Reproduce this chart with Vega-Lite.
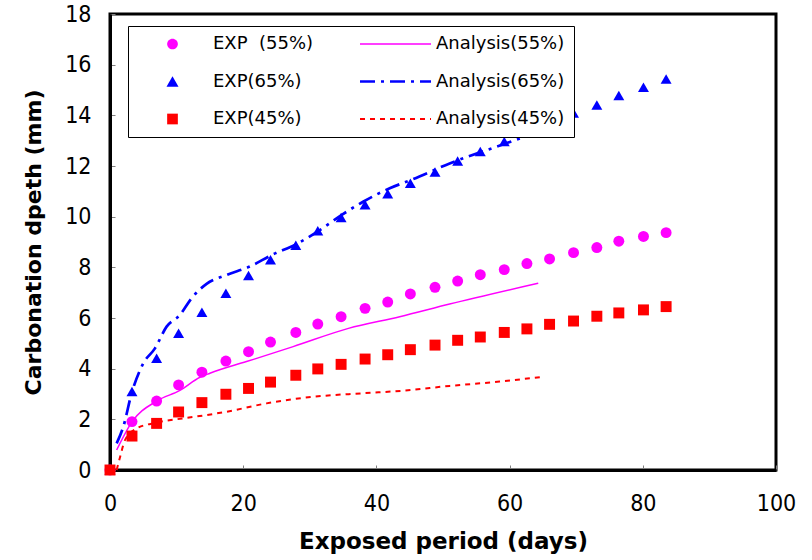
{
  "$schema": "https://vega.github.io/schema/vega-lite/v6.json",
  "width": 666,
  "height": 456,
  "autosize": {"type": "none"},
  "padding": {"left": 110, "top": 14, "right": 36, "bottom": 90},
  "background": "white",
  "config": {
    "view": {"stroke": "black", "strokeWidth": 3},
    "axis": {
      "grid": false,
      "domainColor": "black",
      "domainWidth": 3,
      "tickColor": "#808080",
      "tickWidth": 1,
      "tickSize": -5,
      "labelFlush": false,
      "labelOverlap": false,
      "labelFont": "DejaVu Sans Condensed, Liberation Sans Narrow, DejaVu Sans",
      "labelFontSize": 23,
      "labelColor": "black",
      "titleFont": "DejaVu Sans",
      "titleFontSize": 22,
      "titleFontWeight": "bold",
      "titleColor": "black"
    }
  },
  "datasets": {
    "exp": [
      {"day": 0, "depth": 0, "series": "EXP (55%)"},
      {"day": 3.3, "depth": 1.91, "series": "EXP (55%)"},
      {"day": 7.0, "depth": 2.72, "series": "EXP (55%)"},
      {"day": 10.3, "depth": 3.36, "series": "EXP (55%)"},
      {"day": 13.8, "depth": 3.86, "series": "EXP (55%)"},
      {"day": 17.4, "depth": 4.30, "series": "EXP (55%)"},
      {"day": 20.8, "depth": 4.67, "series": "EXP (55%)"},
      {"day": 24.1, "depth": 5.05, "series": "EXP (55%)"},
      {"day": 27.9, "depth": 5.43, "series": "EXP (55%)"},
      {"day": 31.2, "depth": 5.76, "series": "EXP (55%)"},
      {"day": 34.7, "depth": 6.05, "series": "EXP (55%)"},
      {"day": 38.3, "depth": 6.38, "series": "EXP (55%)"},
      {"day": 41.7, "depth": 6.63, "series": "EXP (55%)"},
      {"day": 45.1, "depth": 6.95, "series": "EXP (55%)"},
      {"day": 48.8, "depth": 7.21, "series": "EXP (55%)"},
      {"day": 52.2, "depth": 7.46, "series": "EXP (55%)"},
      {"day": 55.6, "depth": 7.71, "series": "EXP (55%)"},
      {"day": 59.2, "depth": 7.91, "series": "EXP (55%)"},
      {"day": 62.6, "depth": 8.15, "series": "EXP (55%)"},
      {"day": 66.0, "depth": 8.33, "series": "EXP (55%)"},
      {"day": 69.6, "depth": 8.58, "series": "EXP (55%)"},
      {"day": 73.1, "depth": 8.78, "series": "EXP (55%)"},
      {"day": 76.4, "depth": 9.03, "series": "EXP (55%)"},
      {"day": 80.1, "depth": 9.22, "series": "EXP (55%)"},
      {"day": 83.5, "depth": 9.37, "series": "EXP (55%)"},
      {"day": 0, "depth": 0, "series": "EXP(65%)"},
      {"day": 3.3, "depth": 3.10, "series": "EXP(65%)"},
      {"day": 7.0, "depth": 4.41, "series": "EXP(65%)"},
      {"day": 10.3, "depth": 5.40, "series": "EXP(65%)"},
      {"day": 13.8, "depth": 6.23, "series": "EXP(65%)"},
      {"day": 17.4, "depth": 6.98, "series": "EXP(65%)"},
      {"day": 20.8, "depth": 7.68, "series": "EXP(65%)"},
      {"day": 24.1, "depth": 8.30, "series": "EXP(65%)"},
      {"day": 27.9, "depth": 8.87, "series": "EXP(65%)"},
      {"day": 31.2, "depth": 9.44, "series": "EXP(65%)"},
      {"day": 34.7, "depth": 9.97, "series": "EXP(65%)"},
      {"day": 38.3, "depth": 10.47, "series": "EXP(65%)"},
      {"day": 41.7, "depth": 10.90, "series": "EXP(65%)"},
      {"day": 45.1, "depth": 11.32, "series": "EXP(65%)"},
      {"day": 48.8, "depth": 11.76, "series": "EXP(65%)"},
      {"day": 52.2, "depth": 12.20, "series": "EXP(65%)"},
      {"day": 55.6, "depth": 12.57, "series": "EXP(65%)"},
      {"day": 59.2, "depth": 12.97, "series": "EXP(65%)"},
      {"day": 62.6, "depth": 13.30, "series": "EXP(65%)"},
      {"day": 66.0, "depth": 13.69, "series": "EXP(65%)"},
      {"day": 69.6, "depth": 14.09, "series": "EXP(65%)"},
      {"day": 73.1, "depth": 14.41, "series": "EXP(65%)"},
      {"day": 76.4, "depth": 14.78, "series": "EXP(65%)"},
      {"day": 80.1, "depth": 15.11, "series": "EXP(65%)"},
      {"day": 83.5, "depth": 15.43, "series": "EXP(65%)"},
      {"day": 0, "depth": 0, "series": "EXP(45%)"},
      {"day": 3.3, "depth": 1.34, "series": "EXP(45%)"},
      {"day": 7.0, "depth": 1.84, "series": "EXP(45%)"},
      {"day": 10.3, "depth": 2.29, "series": "EXP(45%)"},
      {"day": 13.8, "depth": 2.66, "series": "EXP(45%)"},
      {"day": 17.4, "depth": 2.99, "series": "EXP(45%)"},
      {"day": 20.8, "depth": 3.22, "series": "EXP(45%)"},
      {"day": 24.1, "depth": 3.47, "series": "EXP(45%)"},
      {"day": 27.9, "depth": 3.74, "series": "EXP(45%)"},
      {"day": 31.2, "depth": 3.99, "series": "EXP(45%)"},
      {"day": 34.7, "depth": 4.17, "series": "EXP(45%)"},
      {"day": 38.3, "depth": 4.38, "series": "EXP(45%)"},
      {"day": 41.7, "depth": 4.55, "series": "EXP(45%)"},
      {"day": 45.1, "depth": 4.75, "series": "EXP(45%)"},
      {"day": 48.8, "depth": 4.93, "series": "EXP(45%)"},
      {"day": 52.2, "depth": 5.12, "series": "EXP(45%)"},
      {"day": 55.6, "depth": 5.25, "series": "EXP(45%)"},
      {"day": 59.2, "depth": 5.43, "series": "EXP(45%)"},
      {"day": 62.6, "depth": 5.57, "series": "EXP(45%)"},
      {"day": 66.0, "depth": 5.75, "series": "EXP(45%)"},
      {"day": 69.6, "depth": 5.88, "series": "EXP(45%)"},
      {"day": 73.1, "depth": 6.07, "series": "EXP(45%)"},
      {"day": 76.4, "depth": 6.20, "series": "EXP(45%)"},
      {"day": 80.1, "depth": 6.32, "series": "EXP(45%)"},
      {"day": 83.5, "depth": 6.45, "series": "EXP(45%)"}
    ],
    "ana55": [
      {"day": 1.0, "depth": 0.79, "series": "Analysis(55%)"},
      {"day": 3.3, "depth": 1.90, "series": "Analysis(55%)"},
      {"day": 7.0, "depth": 2.72, "series": "Analysis(55%)"},
      {"day": 10.5, "depth": 3.14, "series": "Analysis(55%)"},
      {"day": 13.5, "depth": 3.66, "series": "Analysis(55%)"},
      {"day": 15.0, "depth": 3.82, "series": "Analysis(55%)"},
      {"day": 20.5, "depth": 4.28, "series": "Analysis(55%)"},
      {"day": 27.5, "depth": 4.87, "series": "Analysis(55%)"},
      {"day": 35.8, "depth": 5.59, "series": "Analysis(55%)"},
      {"day": 43.5, "depth": 6.05, "series": "Analysis(55%)"},
      {"day": 51.0, "depth": 6.55, "series": "Analysis(55%)"},
      {"day": 64.3, "depth": 7.37, "series": "Analysis(55%)"}
    ],
    "ana65": [
      {"day": 1.0, "depth": 1.05, "series": "Analysis(65%)"},
      {"day": 2.0, "depth": 1.71, "series": "Analysis(65%)"},
      {"day": 3.25, "depth": 3.03, "series": "Analysis(65%)"},
      {"day": 5.0, "depth": 4.21, "series": "Analysis(65%)"},
      {"day": 6.75, "depth": 4.80, "series": "Analysis(65%)"},
      {"day": 8.5, "depth": 5.66, "series": "Analysis(65%)"},
      {"day": 10.5, "depth": 6.12, "series": "Analysis(65%)"},
      {"day": 12.25, "depth": 6.78, "series": "Analysis(65%)"},
      {"day": 14.5, "depth": 7.35, "series": "Analysis(65%)"},
      {"day": 17.5, "depth": 7.70, "series": "Analysis(65%)"},
      {"day": 21.0, "depth": 8.03, "series": "Analysis(65%)"},
      {"day": 24.3, "depth": 8.49, "series": "Analysis(65%)"},
      {"day": 28.0, "depth": 8.92, "series": "Analysis(65%)"},
      {"day": 31.5, "depth": 9.47, "series": "Analysis(65%)"},
      {"day": 34.8, "depth": 10.07, "series": "Analysis(65%)"},
      {"day": 38.0, "depth": 10.59, "series": "Analysis(65%)"},
      {"day": 42.0, "depth": 11.12, "series": "Analysis(65%)"},
      {"day": 45.5, "depth": 11.48, "series": "Analysis(65%)"},
      {"day": 51.0, "depth": 12.10, "series": "Analysis(65%)"},
      {"day": 58.0, "depth": 12.76, "series": "Analysis(65%)"},
      {"day": 65.0, "depth": 13.40, "series": "Analysis(65%)"}
    ],
    "ana45": [
      {"day": 1.0, "depth": 0.0, "series": "Analysis(45%)"},
      {"day": 1.6, "depth": 0.6, "series": "Analysis(45%)"},
      {"day": 2.25, "depth": 1.18, "series": "Analysis(45%)"},
      {"day": 4.0, "depth": 1.64, "series": "Analysis(45%)"},
      {"day": 7.0, "depth": 1.87, "series": "Analysis(45%)"},
      {"day": 11.0, "depth": 2.04, "series": "Analysis(45%)"},
      {"day": 14.5, "depth": 2.17, "series": "Analysis(45%)"},
      {"day": 17.5, "depth": 2.30, "series": "Analysis(45%)"},
      {"day": 23.5, "depth": 2.63, "series": "Analysis(45%)"},
      {"day": 30.5, "depth": 2.89, "series": "Analysis(45%)"},
      {"day": 38.0, "depth": 3.03, "series": "Analysis(45%)"},
      {"day": 44.0, "depth": 3.13, "series": "Analysis(45%)"},
      {"day": 51.0, "depth": 3.32, "series": "Analysis(45%)"},
      {"day": 58.5, "depth": 3.49, "series": "Analysis(45%)"},
      {"day": 65.0, "depth": 3.68, "series": "Analysis(45%)"}
    ]
  },
  "encoding": {
    "x": {
      "field": "day", "type": "quantitative",
      "scale": {"domain": [0, 100], "nice": false, "zero": false},
      "axis": {"values": [0, 20, 40, 60, 80, 100], "title": "Exposed period (days)", "labelPadding": 27, "titlePadding": 15, "titleFontSize": 23}
    },
    "y": {
      "field": "depth", "type": "quantitative",
      "scale": {"domain": [0, 18], "nice": false, "zero": false},
      "axis": {"values": [0, 2, 4, 6, 8, 10, 12, 14, 16, 18], "title": "Carbonation dpeth (mm)", "labelPadding": 24, "titlePadding": 19}
    },
    "color": {
      "field": "series", "type": "nominal",
      "scale": {
        "domain": ["EXP (55%)", "Analysis(55%)", "EXP(65%)", "Analysis(65%)", "EXP(45%)", "Analysis(45%)"],
        "range": ["#FF00FF", "#FF00FF", "#0000FF", "#0000FF", "#FF0000", "#FF0000"]
      },
      "legend": {
        "title": null,
        "orient": "none",
        "legendX": 18,
        "legendY": 12,
        "columns": 2,
        "direction": "horizontal",
        "columnPadding": 40,
        "rowPadding": 19.5,
        "padding": 9,
        "fillColor": "white",
        "strokeColor": "black",
        "symbolSize": 100,
        "labelOffset": 58,
        "labelFont": "DejaVu Sans",
        "labelFontSize": 18,
        "labelColor": "black",
        "labelLimit": 300,
        "labelExpr": "datum.label == 'EXP (55%)' ? 'EXP\u00a0 (55%)' : datum.label",
        "encode": {
          "symbols": {
            "update": {
              "shape": {"signal": "datum.value == 'EXP (55%)' ? 'M6.37,0A1.07,1.07,0,1,1,4.23,0A1.07,1.07,0,1,1,6.37,0Z' : datum.value == 'EXP(65%)' ? 'M5.3,-1.04L6.5,1.04L4.1,1.04Z' : datum.value == 'EXP(45%)' ? 'M4.23,-1.07H6.37V1.07H4.23Z' : 'M-1.8,0H12.4'"},
              "fill": {"signal": "indexof(datum.value, 'EXP') == 0 ? scale('color', datum.value) : 'transparent'"},
              "stroke": {"signal": "indexof(datum.value, 'EXP') == 0 ? 'transparent' : scale('color', datum.value)"},
              "strokeDash": {"signal": "datum.value == 'Analysis(65%)' ? [15, 6, 3, 6] : datum.value == 'Analysis(45%)' ? [5, 5] : [1, 0]"},
              "strokeWidth": {"signal": "datum.value == 'Analysis(65%)' ? 2.7 : datum.value == 'Analysis(45%)' ? 2 : datum.value == 'Analysis(55%)' ? 1.5 : 0"},
              "opacity": {"value": 1}
            }
          }
        }
      }
    }
  },
  "layer": [
    {
      "data": {"name": "ana55"},
      "mark": {"type": "line", "strokeWidth": 1.5, "interpolate": "monotone"}
    },
    {
      "data": {"name": "ana65"},
      "mark": {"type": "line", "strokeWidth": 2.7, "strokeDash": [15, 6, 3, 6], "interpolate": "monotone"}
    },
    {
      "data": {"name": "ana45"},
      "mark": {"type": "line", "strokeWidth": 2, "strokeDash": [5, 5], "interpolate": "monotone"}
    },
    {
      "data": {"name": "exp"},
      "mark": {"type": "point", "filled": true, "opacity": 1, "size": 120},
      "encoding": {
        "shape": {
          "field": "series", "type": "nominal",
          "scale": {"domain": ["EXP (55%)", "EXP(65%)", "EXP(45%)"], "range": ["circle", "triangle-up", "square"]},
          "legend": null
        }
      }
    }
  ]
}
